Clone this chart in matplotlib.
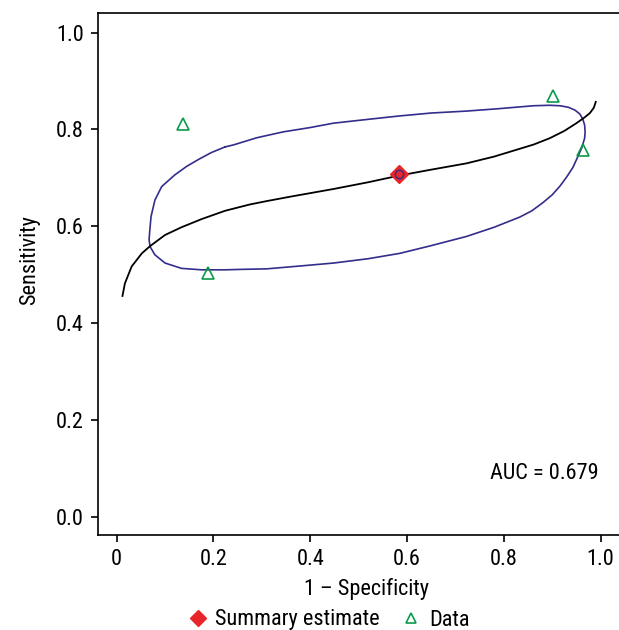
import matplotlib
matplotlib.use("Agg")
import matplotlib.pyplot as plt
from matplotlib import font_manager
from matplotlib.lines import Line2D

# pick a narrow font if one is around
have = {f.name for f in font_manager.fontManager.ttflist}
narrow = [n for n in ["Liberation Sans Narrow", "Roboto Condensed", "Open Sans Condensed",
                      "DejaVu Sans Condensed", "Roboto"] if n in have]
plt.rcParams['font.family'] = narrow[:1] + ['DejaVu Sans']

# study points
data_fpr = [0.138, 0.188, 0.901, 0.963]
data_sens = [0.811, 0.504, 0.870, 0.758]

# summary estimate
summ_fpr = 0.584
summ_sens = 0.708

# SROC curve
sroc_fpr = [0.012, 0.017, 0.031, 0.052, 0.069, 0.100, 0.134, 0.176, 0.224, 0.275,
            0.310, 0.358, 0.448, 0.520, 0.585, 0.650, 0.723, 0.780, 0.826, 0.862,
            0.895, 0.925, 0.950, 0.967, 0.978, 0.986, 0.990]
sroc_sens = [0.456, 0.482, 0.517, 0.544, 0.559, 0.582, 0.598, 0.615, 0.632, 0.645,
             0.652, 0.661, 0.677, 0.691, 0.705, 0.717, 0.730, 0.744, 0.758, 0.769,
             0.782, 0.797, 0.813, 0.825, 0.834, 0.845, 0.857]

# confidence region contour
ci_fpr = [0.224, 0.241, 0.290, 0.344, 0.400, 0.448, 0.520, 0.585, 0.650, 0.723,
          0.790, 0.861, 0.895, 0.916, 0.933, 0.947, 0.957, 0.963, 0.967, 0.968,
          0.967, 0.961, 0.953, 0.943, 0.930, 0.916, 0.900, 0.881, 0.858, 0.833,
          0.780, 0.723, 0.650, 0.585, 0.520, 0.448, 0.380, 0.310, 0.260, 0.224,
          0.176, 0.134, 0.100, 0.079, 0.069, 0.067, 0.068, 0.071, 0.079, 0.093,
          0.120, 0.145, 0.169, 0.195, 0.224]
ci_sens = [0.764, 0.768, 0.783, 0.795, 0.804, 0.813, 0.821, 0.828, 0.834, 0.838,
           0.843, 0.849, 0.850, 0.849, 0.846, 0.840, 0.832, 0.822, 0.809, 0.795,
           0.782, 0.762, 0.744, 0.722, 0.702, 0.683, 0.665, 0.649, 0.632, 0.619,
           0.598, 0.579, 0.560, 0.544, 0.533, 0.524, 0.518, 0.512, 0.511, 0.510,
           0.510, 0.513, 0.524, 0.541, 0.558, 0.572, 0.586, 0.620, 0.654, 0.682,
           0.706, 0.724, 0.738, 0.752, 0.764]

auc_text = "AUC = 0.679"
xticks = [0, 0.2, 0.4, 0.6, 0.8, 1.0]
xticklabels = ["0", "0.2", "0.4", "0.6", "0.8", "1.0"]
yticks = [0.0, 0.2, 0.4, 0.6, 0.8, 1.0]
yticklabels = ["0.0", "0.2", "0.4", "0.6", "0.8", "1.0"]

fig = plt.figure(figsize=(6.19, 6.30), dpi=100)
ax = fig.add_axes([0.1583, 0.1508, 0.8417, 0.8286])

ax.plot(ci_fpr, ci_sens, color="#332d8c", lw=1.2, solid_joinstyle="round")
ax.plot(sroc_fpr, sroc_sens, color="black", lw=1.3, solid_joinstyle="round")
ax.plot(data_fpr, data_sens, ls="none", marker="^", ms=8, mfc="none",
        mec="#0a9a4a", mew=1.2)
ax.plot([summ_fpr], [summ_sens], ls="none", marker="D", ms=9, color="#e8262a")
ax.plot([summ_fpr], [summ_sens], ls="none", marker="o", ms=6, mfc="#e8262a",
        mec="#332d8c", mew=1.0)

ax.set_xlim(-0.0386, 1.038)
ax.set_ylim(-0.0379, 1.0407)
ax.set_xticks(xticks)
ax.set_xticklabels(xticklabels)
ax.set_yticks(yticks)
ax.set_yticklabels(yticklabels)
ax.tick_params(direction="out", length=5, width=1.2, labelsize=16, pad=5)
ax.spines["right"].set_visible(False)
for s in ["left", "top", "bottom"]:
    ax.spines[s].set_linewidth(1.2)

fig.text(366 / 619, 1 - 589 / 630, "1 \u2013 Specificity", ha="center", va="center", fontsize=16)
fig.text(30 / 619, 1 - 260 / 630, "Sensitivity", ha="center", va="center",
         rotation=90, fontsize=16)
ax.text(0.996, 0.09, auc_text, ha="right", va="center", fontsize=16,
        transform=ax.transData)

handles = [
    Line2D([], [], ls="none", marker="D", ms=8, color="#e8262a"),
    Line2D([], [], ls="none", marker="^", ms=7, mfc="none", mec="#0a9a4a", mew=1.2),
]
fig.legend(handles, ["Summary estimate", "Data"], loc="center",
           bbox_to_anchor=(328 / 619, 1 - 620 / 630), ncol=2, frameon=False,
           fontsize=16, handletextpad=0.3, columnspacing=0.9, handlelength=1.0)

fig.savefig("out.png", dpi=100)
